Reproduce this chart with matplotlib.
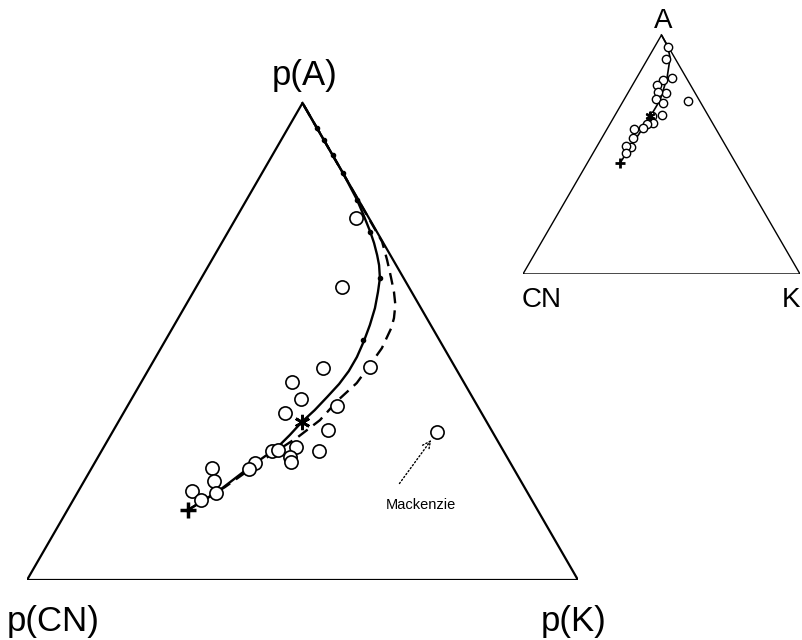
import numpy as np
import matplotlib
matplotlib.use("Agg")
import matplotlib.pyplot as plt

plt.rcParams['font.family'] = ['Liberation Sans', 'DejaVu Sans']

# ternary data as (A, CN, K) fractions
# main diagram: samples
samp_A = [0.759, 0.614, 0.444, 0.447, 0.415, 0.379, 0.350, 0.365, 0.314, 0.279, 0.270,
          0.270, 0.273, 0.258, 0.247, 0.245, 0.233, 0.235, 0.208, 0.187, 0.168, 0.182]
samp_CN = [0.023, 0.121, 0.241, 0.154, 0.312, 0.313, 0.357, 0.255, 0.297, 0.372, 0.335,
           0.421, 0.408, 0.394, 0.398, 0.464, 0.480, 0.547, 0.556, 0.607, 0.600, 0.566]
samp_K = [0.218, 0.265, 0.315, 0.399, 0.273, 0.308, 0.293, 0.380, 0.389, 0.349, 0.395,
          0.309, 0.319, 0.348, 0.355, 0.291, 0.287, 0.218, 0.236, 0.206, 0.232, 0.252]

mack = (0.310, 0.101, 0.589)
start_pt = (0.147, 0.634, 0.219)
center_pt = (0.331, 0.336, 0.333)

# weathering trend (solid) and alternative trend (dashed)
solid_A = [0.147, 0.1845, 0.237, 0.277, 0.304, 0.331, 0.356, 0.384, 0.411, 0.438, 0.4675,
           0.501, 0.5346, 0.570, 0.604, 0.633, 0.660, 0.681, 0.7065, 0.730, 0.763, 0.797,
           0.853, 0.922, 1.0]
solid_CN = [0.634, 0.563, 0.477, 0.408, 0.371, 0.336, 0.300, 0.263, 0.228, 0.197, 0.1675,
            0.138, 0.110, 0.0835, 0.061, 0.043, 0.031, 0.024, 0.017, 0.012, 0.007, 0.003,
            0.0, 0.0, 0.0]
solid_K = [0.219, 0.253, 0.286, 0.315, 0.325, 0.333, 0.344, 0.353, 0.361, 0.365, 0.365,
           0.361, 0.355, 0.3465, 0.335, 0.324, 0.309, 0.295, 0.2766, 0.258, 0.230, 0.2005,
           0.147, 0.078, 0.0]

dash_A = [0.147, 0.195, 0.252, 0.300, 0.335, 0.377, 0.413, 0.451, 0.486, 0.528, 0.549,
          0.577, 0.604, 0.635, 0.671, 0.709, 0.900, 1.0]
dash_CN = [0.634, 0.543, 0.445, 0.358, 0.301, 0.247, 0.195, 0.152, 0.113, 0.075, 0.0595,
           0.043, 0.032, 0.022, 0.011, 0.001, 0.0, 0.0]
dash_K = [0.219, 0.262, 0.303, 0.342, 0.364, 0.376, 0.392, 0.397, 0.401, 0.397, 0.3915,
          0.380, 0.364, 0.343, 0.318, 0.290, 0.100, 0.0]

# step marks along the solid trend
tick_A = [0.948, 0.922, 0.891, 0.853, 0.797, 0.730, 0.633, 0.503]
tick_CN = [0.0, 0.0, 0.0, 0.0, 0.003, 0.012, 0.043, 0.139]
tick_K = [0.052, 0.078, 0.109, 0.147, 0.2005, 0.258, 0.324, 0.358]

# inset diagram (A-CN-K)
ins_A = [0.950, 0.900, 0.820, 0.812, 0.791, 0.757, 0.762, 0.732, 0.715, 0.724, 0.661,
         0.665, 0.632, 0.628, 0.611, 0.607, 0.569, 0.531, 0.536, 0.506]
ins_CN = [0.002, 0.034, 0.052, 0.088, 0.121, 0.105, 0.132, 0.154, 0.137, 0.042, 0.204,
          0.166, 0.215, 0.238, 0.261, 0.296, 0.318, 0.345, 0.360, 0.375]
ins_K = [0.048, 0.066, 0.128, 0.100, 0.088, 0.138, 0.106, 0.114, 0.148, 0.234, 0.135,
         0.169, 0.153, 0.134, 0.128, 0.097, 0.113, 0.124, 0.104, 0.119]
ins_start = (0.464, 0.418, 0.118)
ins_star = (0.661, 0.211, 0.128)
ins_line_A = [0.464, 0.573, 0.657, 0.728, 0.820, 0.904, 0.950, 1.0]
ins_line_CN = [0.418, 0.302, 0.213, 0.141, 0.070, 0.017, 0.002, 0.0]
ins_line_K = [0.118, 0.125, 0.130, 0.131, 0.110, 0.079, 0.048, 0.0]

H = np.sqrt(3) / 2


def tern(a, cn, k):
    a = np.asarray(a, dtype=float)
    k = np.asarray(k, dtype=float)
    return k + a / 2, a * H


def setup(ax, lw):
    ax.plot([0, 1, 0.5, 0], [0, 0, H, 0], color='black', lw=lw, solid_joinstyle='miter')
    ax.set_xlim(0, 1)
    ax.set_ylim(0, H)
    ax.axis('off')


fig = plt.figure(figsize=(8.02, 6.4), dpi=100)

# main diagram
ax = fig.add_axes([27 / 802, 60 / 640, 551 / 802, 477 / 640])
ax.patch.set_alpha(0)
setup(ax, 1.6)

x, y = tern(solid_A, solid_CN, solid_K)
ax.plot(x, y, color='black', lw=1.7, clip_on=False)
x, y = tern(dash_A, dash_CN, dash_K)
ax.plot(x, y, color='black', lw=1.7, ls=(0, (5, 3)), clip_on=False)
x, y = tern(tick_A, tick_CN, tick_K)
ax.plot(x, y, 'o', color='black', ms=3, clip_on=False)

x, y = tern(samp_A, samp_CN, samp_K)
ax.plot(x, y, 'o', mfc='white', mec='black', mew=1.2, ms=9.5, clip_on=False)
x, y = tern(*mack)
ax.plot(x, y, 'o', mfc='white', mec='black', mew=1.2, ms=9.5, clip_on=False)

x, y = tern(*start_pt)
ax.plot(x, y, '+', color='black', ms=11, mew=2.5, clip_on=False)
x, y = tern(*center_pt)
ax.plot(x, y, marker=(6, 2, 0), color='black', ms=11, mew=2, clip_on=False)

mx, my = tern(*mack)
ax.annotate('', xy=(mx, my), xytext=(-27, -37), textcoords='offset points',
            arrowprops=dict(arrowstyle='->', color='black', lw=1, ls=':',
                            shrinkA=0, shrinkB=7, mutation_scale=14))

fig.text(305 / 802, 1 - 85 / 640, 'p(A)', fontsize=25, ha='center', va='baseline')
fig.text(7 / 802, 1 - 631 / 640, 'p(CN)', fontsize=25, ha='left', va='baseline')
fig.text(574 / 802, 1 - 631 / 640, 'p(K)', fontsize=25, ha='center', va='baseline')
fig.text(421 / 802, 1 - 509 / 640, 'Mackenzie', fontsize=10.5, ha='center', va='baseline')

# inset diagram
ax2 = fig.add_axes([523 / 802, 366 / 640, 277 / 802, 239 / 640])
ax2.patch.set_alpha(0)
setup(ax2, 1.0)
x, y = tern(ins_line_A, ins_line_CN, ins_line_K)
ax2.plot(x, y, color='black', lw=1.2, clip_on=False)
x, y = tern(ins_A, ins_CN, ins_K)
ax2.plot(x, y, 'o', mfc='white', mec='black', mew=1.0, ms=6, clip_on=False)
x, y = tern(*ins_start)
ax2.plot(x, y, '+', color='black', ms=7, mew=2, clip_on=False)
x, y = tern(*ins_star)
ax2.plot(x, y, marker=(6, 2, 0), color='black', ms=7, mew=1.5, clip_on=False)

fig.text(663 / 802, 1 - 28 / 640, 'A', fontsize=20, ha='center', va='baseline')
fig.text(522 / 802, 1 - 307 / 640, 'CN', fontsize=20, ha='left', va='baseline')
fig.text(800 / 802, 1 - 307 / 640, 'K', fontsize=20, ha='right', va='baseline')

fig.savefig('out.png', dpi=100)
